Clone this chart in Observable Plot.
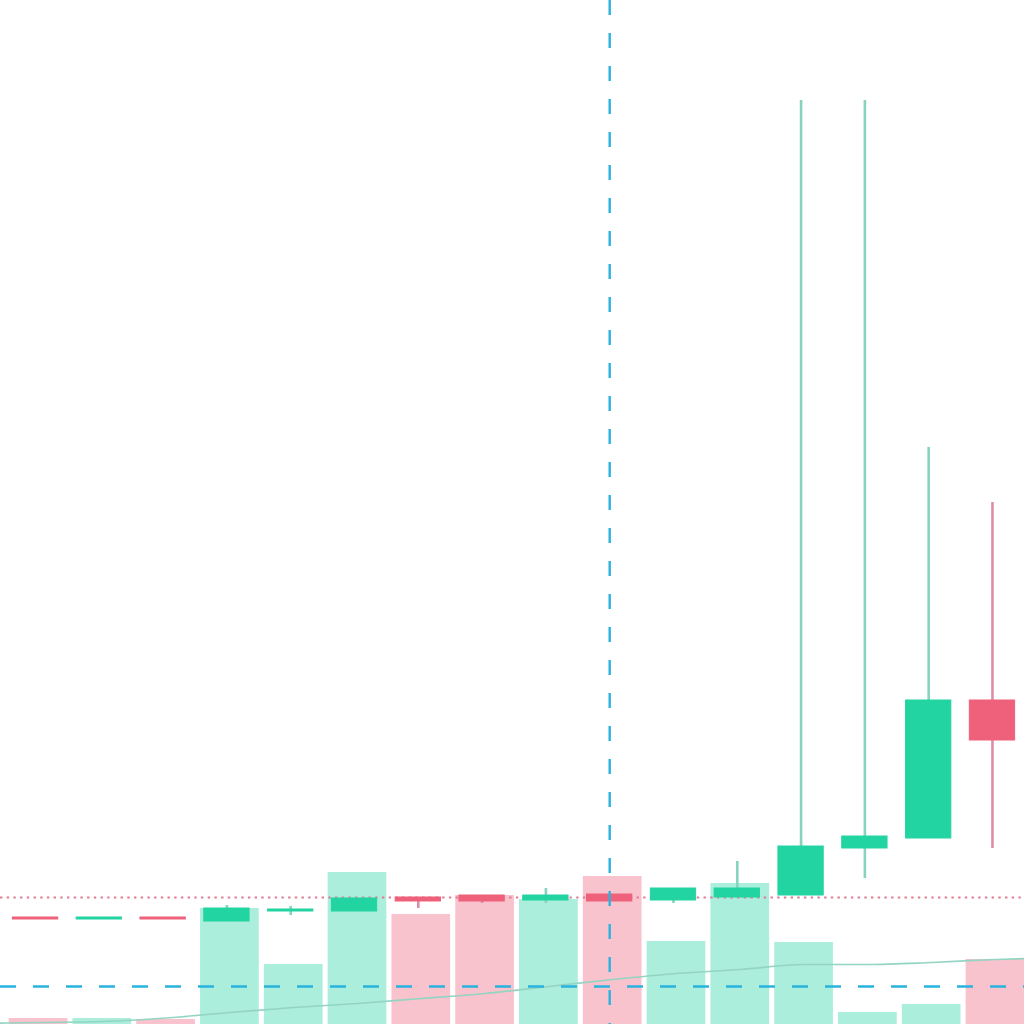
<!DOCTYPE html>
<html>
<head>
<meta charset="utf-8">
<script src="https://cdn.jsdelivr.net/npm/d3@7"></script>
<script src="https://cdn.jsdelivr.net/npm/@observablehq/plot@0.6"></script>
<style>
  html, body { margin: 0; padding: 0; background: #ffffff; }
  #chart { position: relative; width: 1024px; height: 1024px; overflow: hidden; background: #ffffff; }
  #chart svg { position: absolute; left: 0; top: 0; background: transparent; }
</style>
</head>
<body>
<div id="chart"></div>
<script>
// Candle index (position in the visible window)
const index = [0, 1, 2, 3, 4, 5, 6, 7, 8, 9, 10, 11, 12, 13, 14, 15];
// Price series
const opens  = [1.07, 1.05, 1.07, 1.03, 1.13, 1.13, 1.27, 1.29, 1.24, 1.30, 1.24, 1.27, 1.29, 1.76, 1.86, 3.24];
const closes = [1.05, 1.07, 1.05, 1.16, 1.15, 1.26, 1.23, 1.23, 1.29, 1.23, 1.36, 1.36, 1.78, 1.88, 3.24, 2.84];
const highs  = [1.07, 1.07, 1.07, 1.19, 1.18, 1.27, 1.27, 1.29, 1.36, 1.30, 1.36, 1.63, 9.24, 9.24, 5.77, 5.22];
const lows   = [1.05, 1.05, 1.05, 1.03, 1.09, 1.13, 1.16, 1.21, 1.21, 1.23, 1.21, 1.27, 1.29, 1.46, 1.86, 1.76];
// Volume series
const volumes = [60, 60, 50, 1160, 600, 1520, 1100, 1290, 1250, 1480, 830, 1410, 820, 120, 200, 650];
// Volume moving average (includes the neighbours just outside the window)
const maIndex = [-1, 0, 1, 2, 3, 4, 5, 6, 7, 8, 9, 10, 11, 12, 13, 14, 15, 16];
const maValues = [10, 20, 30, 65, 120, 170, 210, 260, 310, 380, 450, 510, 550, 600, 600, 620, 650, 670];
// Reference lines
const lastClosePrice = 1.27;   // dotted price line
const crosshairPrice = 0.38;   // horizontal crosshair
const crosshairIndex = 9;      // vertical crosshair

const UP = "#22d4a2", DOWN = "#ef607b";
const UP_WICK = "#86d3bf", DOWN_WICK = "#dc8fa2";
const UP_VOL = "#aaeedb", DOWN_VOL = "#f9c3cd";

const candles = index.map((i, k) => ({
  i, open: opens[k], close: closes[k], high: highs[k], low: lows[k],
  vol: volumes[k], up: closes[k] >= opens[k]
}));
const ma = maIndex.map((i, k) => ({i, v: maValues[k]}));

const W = 1024, H = 1024;

const volPlot = Plot.plot({
  width: W, height: H,
  margin: 0,
  x: {domain: [-0.596, 15.455], axis: null},
  y: {domain: [0, 10240], axis: null},
  marks: [
    Plot.rect(candles, {
      x1: d => d.i - 0.46, x2: d => d.i + 0.46,
      y1: 0, y2: "vol",
      fill: d => d.up ? UP_VOL : DOWN_VOL
    }),
    Plot.line(ma, {x: "i", y: "v", stroke: "#94d4c3", strokeWidth: 1.7, curve: "monotone-x", clip: true})
  ]
});

const pricePlot = Plot.plot({
  width: W, height: H,
  margin: 0,
  style: {background: "transparent"},
  x: {domain: [-0.549, 15.502], axis: null},
  y: {domain: [0, 10.24], axis: null},
  marks: [
    Plot.ruleY([lastClosePrice], {stroke: "#e07d94", strokeWidth: 2, strokeDasharray: "2.4,4.3"}),
    Plot.ruleX(candles, {
      x: "i", y1: "low", y2: "high",
      stroke: d => d.up ? UP_WICK : DOWN_WICK, strokeWidth: 2.6
    }),
    Plot.rect(candles, {
      x1: d => d.i - 0.355, x2: d => d.i + 0.355,
      y1: "open", y2: "close",
      fill: d => d.up ? UP : DOWN,
      stroke: d => d.up ? UP : DOWN, strokeWidth: 1
    }),
    Plot.ruleY([crosshairPrice], {stroke: "#29b3df", strokeWidth: 2.4, strokeDasharray: "16,17"}),
    Plot.ruleX([crosshairIndex], {stroke: "#29b3df", strokeWidth: 2.4, strokeDasharray: "15,18"})
  ]
});

const el = document.getElementById("chart");
el.appendChild(volPlot);
el.appendChild(pricePlot);
</script>
</body>
</html>
